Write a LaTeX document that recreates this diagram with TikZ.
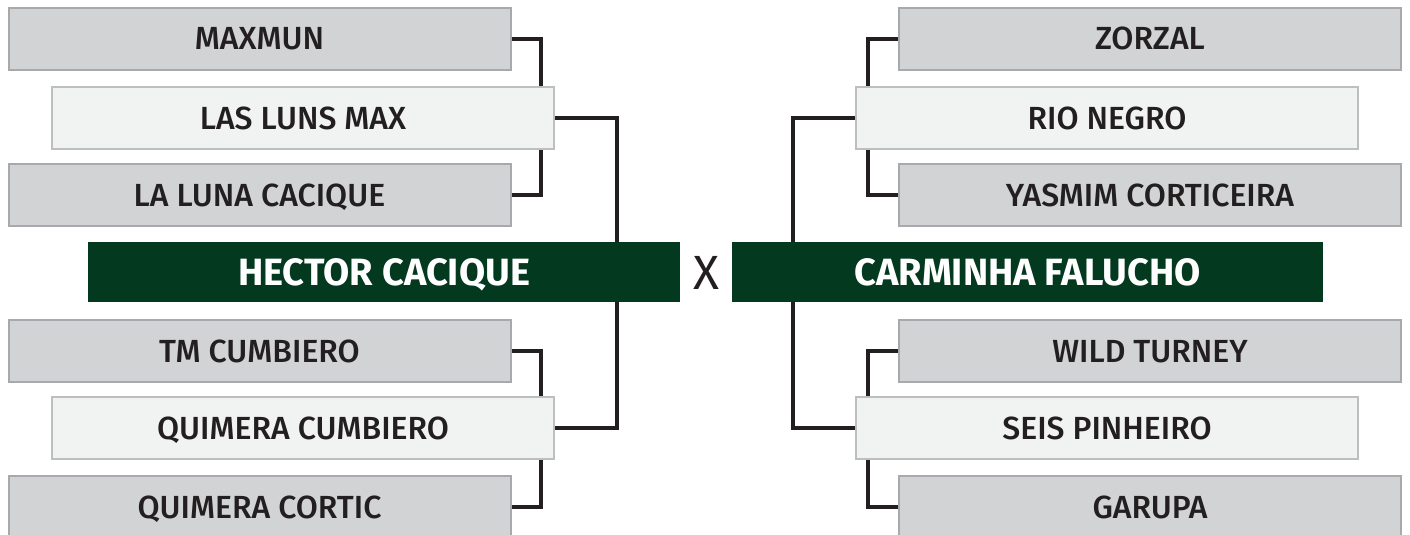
\documentclass[tikz,border=0pt]{standalone}
\usepackage{fontspec}
\setmainfont{Fira Sans}[UprightFont={* Medium},BoldFont={* Bold}]
\newfontfamily\versusfont{Fira Sans}
\usetikzlibrary{positioning}

\definecolor{boxgrey}{HTML}{D1D3D4}
\definecolor{boxedge}{HTML}{A7A9AC}
\definecolor{palefill}{HTML}{F1F2F2}
\definecolor{paleedge}{HTML}{BCBEC0}
\definecolor{teamgreen}{HTML}{02391F}
\definecolor{ink}{HTML}{231F20}

\tikzset{
  entry/.style={draw=boxedge, fill=boxgrey, line width=2pt, inner sep=0pt,
    minimum width=502pt, minimum height=62pt, text height=22pt, text depth=0pt,
    text=ink, font=\fontsize{32}{36}\selectfont},
  semi/.style={entry, draw=paleedge, fill=palefill},
  final/.style={fill=teamgreen, text=white, inner sep=0pt, minimum width=592pt,
    minimum height=60pt, text height=27pt, text depth=0pt,
    font=\bfseries\fontsize{38}{44}\selectfont},
  link/.style={draw=ink, line width=4.5pt}
}

\begin{document}
\begin{tikzpicture}[x=1pt,y=-1pt]
    \useasboundingbox (0,0) rectangle (1410,535);

    % left half
    \node[entry] (maxmun) at (259.5,39) {MAXMUN};
    \node[semi]  (lasluns) at (303,118) {LAS LUNS MAX};
    \node[entry] (laluna) at (259.5,195) {LA LUNA CACIQUE};
    \node[entry] (tmcumb) at (259.5,351) {TM CUMBIERO};
    \node[semi]  (quimcumb) at (303,428) {QUIMERA CUMBIERO};
    \node[entry] (quimcort) at (259.5,507) {QUIMERA CORTIC};
    \node[final] (hector) at (384,272) {HECTOR CACIQUE};

    % right half
    \node[entry] (zorzal) at (1150,39) {ZORZAL};
    \node[semi]  (rionegro) at (1107,118) {RIO NEGRO};
    \node[entry] (yasmim) at (1150,195) {YASMIM CORTICEIRA};
    \node[entry] (wild) at (1150,351) {WILD TURNEY};
    \node[semi]  (seis) at (1107,428) {SEIS PINHEIRO};
    \node[entry] (garupa) at (1150,507) {GARUPA};
    \node[final, minimum width=591pt] (carminha) at (1027.5,272) {CARMINHA FALUCHO};

    \node[text=ink, inner sep=0pt, font=\versusfont\fontsize{48}{52}\selectfont] (versus) at (706,273) {X};

    \coordinate (lnear) at (541,0);
    \coordinate (lfar) at (617,0);
    \coordinate (rnear) at (868,0);
    \coordinate (rfar) at (793,0);

    \draw[link] (maxmun.east) -| (lasluns.north -| lnear);
    \draw[link] (laluna.east) -| (lasluns.south -| lnear);
    \draw[link] (tmcumb.east) -| (quimcumb.north -| lnear);
    \draw[link] (quimcort.east) -| (quimcumb.south -| lnear);
    \draw[link] (lasluns.east) -| (hector.north -| lfar);
    \draw[link] (quimcumb.east) -| (hector.south -| lfar);

    \draw[link] (zorzal.west) -| (rionegro.north -| rnear);
    \draw[link] (yasmim.west) -| (rionegro.south -| rnear);
    \draw[link] (wild.west) -| (seis.north -| rnear);
    \draw[link] (garupa.west) -| (seis.south -| rnear);
    \draw[link] (rionegro.west) -| (carminha.north -| rfar);
    \draw[link] (seis.west) -| (carminha.south -| rfar);
\end{tikzpicture}
\end{document}
